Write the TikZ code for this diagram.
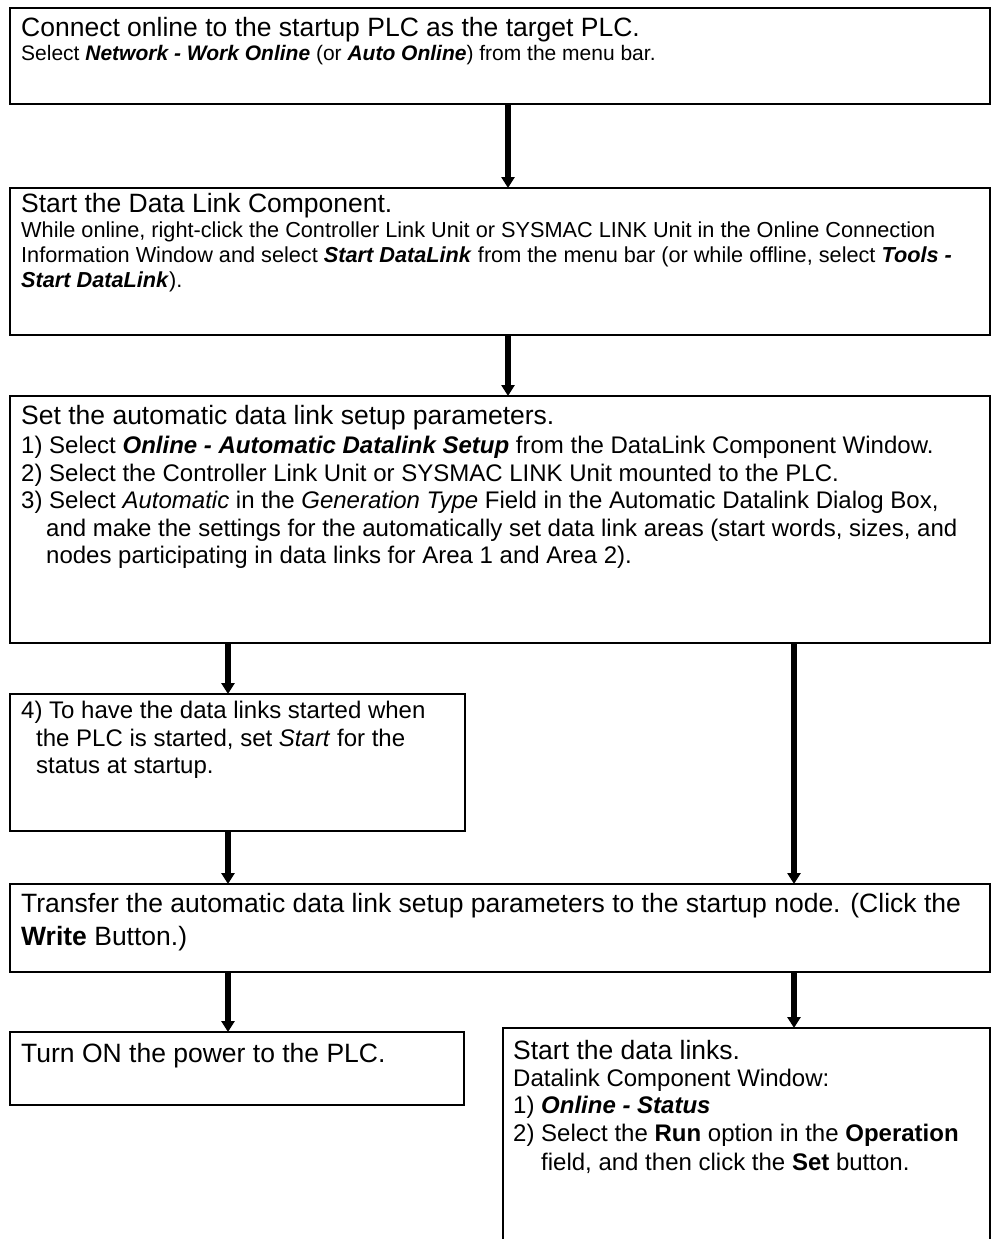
\documentclass[tikz,border=0pt]{standalone}
\usepackage{fontspec}
\setmainfont{Liberation Sans}
\usetikzlibrary{arrows.meta}
\newcommand{\bi}[1]{\textbf{\textit{#1}}}
\begin{document}
\begin{tikzpicture}[x=1pt, y=-1pt,
  box/.style={draw, line width=1.8pt, anchor=north west, inner sep=0pt, outer sep=0pt},
  ttl/.style={anchor=base west, inner sep=0pt, font=\fontsize{26.5}{32}\selectfont},
  bdy/.style={anchor=base west, inner sep=0pt, font=\fontsize{24}{28}\selectfont},
  sml/.style={anchor=base west, inner sep=0pt, font=\fontsize{21}{25}\selectfont},
  smm/.style={anchor=base west, inner sep=0pt, font=\fontsize{21.7}{25}\selectfont},
  flow/.style={line width=5.5pt, -{Triangle[length=11pt, width=13pt]}}]
  \clip (0,0) rectangle (992,1239);
  \coordinate (cm) at (508,0);
  \coordinate (cl) at (228,0);
  \coordinate (cr) at (794,0);
  \node[box, minimum width=980pt, minimum height=96pt] (b1) at (10,8) {};
  \node[box, minimum width=980pt, minimum height=147pt] (b2) at (10,188) {};
  \node[box, minimum width=980pt, minimum height=247pt] (b3) at (10,396) {};
  \node[box, minimum width=455pt, minimum height=137pt] (b4) at (10,694) {};
  \node[box, minimum width=980pt, minimum height=88pt] (b5) at (10,884) {};
  \node[box, minimum width=454pt, minimum height=73pt] (b6) at (10,1032) {};
  \node[box, minimum width=487pt, minimum height=215pt] (b7) at (503,1028) {};
  \draw[flow] (b1.south -| cm) -- (b2.north -| cm);
  \draw[flow] (b2.south -| cm) -- (b3.north -| cm);
  \draw[flow] (b3.south -| cl) -- (b4.north -| cl);
  \draw[flow] (b3.south -| cr) -- (b5.north -| cr);
  \draw[flow] (b4.south -| cl) -- (b5.north -| cl);
  \draw[flow] (b5.south -| cl) -- (b6.north -| cl);
  \draw[flow] (b5.south -| cr) -- (b7.north -| cr);
  \node[ttl] (t1) at (21,36.5) {Connect online to the startup PLC as the target PLC.};
  \node[sml] (t1a) at (21,60.5) {Select \bi{Network - Work Online} (or \bi{Auto Online}) from the menu bar.};
  \node[ttl] (t2) at (21,212.5) {Start the Data Link Component.};
  \node[smm] (t2a) at (21,237.5) {While online, right-click the Controller Link Unit or SYSMAC LINK Unit in the Online Connection};
  \node[smm] (t2b) at (21,262.5) {Information Window and select \bi{Start DataLink} from the menu bar (or while offline, select \bi{Tools -}};
  \node[smm] (t2c) at (21,287.5) {\bi{Start DataLink}).};
  \node[ttl] (t3) at (21,424) {Set the automatic data link setup parameters.};
  \node[bdy] (t3a) at (21,453.5) {1) Select \bi{Online - Automatic Datalink Setup} from the DataLink Component Window.};
  \node[bdy] (t3b) at (21,481) {2) Select the Controller Link Unit or SYSMAC LINK Unit mounted to the PLC.};
  \node[bdy] (t3c) at (21,508.5) {3) Select \textit{Automatic} in the \textit{Generation Type} Field in the Automatic Datalink Dialog Box,};
  \node[bdy] (t3d) at (46,536) {and make the settings for the automatically set data link areas (start words, sizes, and};
  \node[bdy] (t3e) at (46,563.5) {nodes participating in data links for Area 1 and Area 2).};
  \node[bdy] (t4a) at (21,718.5) {4) To have the data links started when};
  \node[bdy] (t4b) at (36,746) {the PLC is started, set \textit{Start} for the};
  \node[bdy] (t4c) at (36,773.5) {status at startup.};
  \node[ttl] (t5a) at (21,912.5) {Transfer the automatic data link setup parameters to the startup node. (Click the};
  \node[ttl] (t5b) at (21,945) {\textbf{Write} Button.)};
  \node[ttl] (t6) at (21,1062.5) {Turn ON the power to the PLC.};
  \node[ttl] (t7) at (513,1059.5) {Start the data links.};
  \node[bdy] (t7a) at (513,1086.6) {Datalink Component Window:};
  \node[bdy] (t7b) at (513,1113.6) {1) \bi{Online - Status}};
  \node[bdy] (t7c) at (513,1141.6) {2) Select the \textbf{Run} option in the \textbf{Operation}};
  \node[bdy] (t7d) at (541,1170) {field, and then click the \textbf{Set} button.};
\end{tikzpicture}
\end{document}
